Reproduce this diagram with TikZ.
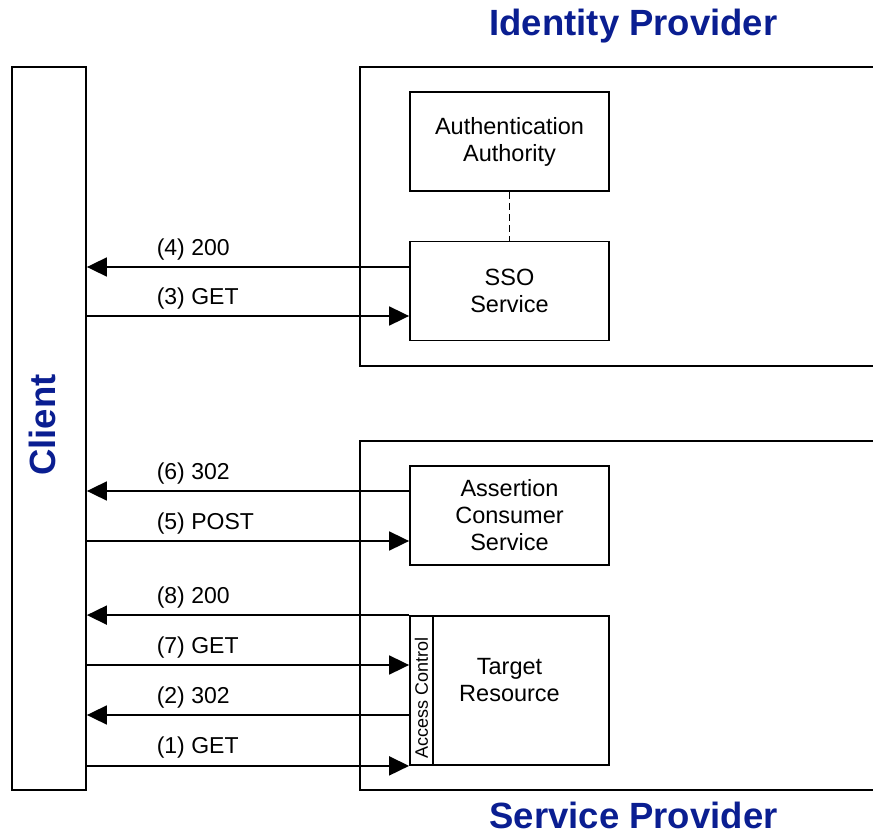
\documentclass[tikz,border=0pt]{standalone}
\usepackage{fontspec}
\setmainfont{Liberation Sans}
\usetikzlibrary{arrows.meta,positioning,calc}
\definecolor{navy}{RGB}{10,30,145}

\begin{document}
\begin{tikzpicture}[x=1pt,y=-1pt,
  box/.style={rectangle,draw,line width=1.8pt,inner sep=0pt,minimum width=199pt,minimum height=99pt,align=center,font=\fontsize{23.5}{27}\selectfont},
  frame/.style={line width=1.8pt},
  title/.style={font=\fontsize{36.5}{40}\selectfont\bfseries,text=navy,inner sep=0pt},
  arr/.style={-{Triangle[length=20pt,width=19pt]},line width=1.8pt},
  lbl/.style={anchor=base west,xshift=69pt,yshift=12pt,inner sep=0pt,font=\fontsize{23}{27}\selectfont}
]
\useasboundingbox (0,0) rectangle (873,837);

% provider frames, open on the right
\draw[frame] (873,67) -| (360,366) -- (873,366);
\draw[frame] (873,441) -| (360,790) -- (873,790);
\node[title, anchor=base] (idp) at (633.5,36) {Identity Provider};
\node[title, anchor=base] (sp) at (633.5,828) {Service Provider};

% client
\node[box, minimum width=74pt, minimum height=723pt] (client) at (49,428.5) {};
\node[title, rotate=90] (clientlbl) at (42,425) {Client};

% identity provider
\node[box] (auth) at (509.5,141.5) {Authentication\\Authority};
\node[box] (sso) at (509.5,291) {SSO\\Service};
\draw[line width=1.8pt, dash pattern=on 7pt off 4pt] (auth) -- (sso);

% service provider
\node[box] (acs) at (509.5,515.5) {Assertion\\Consumer\\Service};
\node[box, minimum height=149pt] (target) at (509.5,690.5) {};
\node[font=\fontsize{23.5}{27}\selectfont, align=center] (targettxt) at ([yshift=10pt]target.center) {Target\\Resource};
\node[box, minimum width=23pt, minimum height=149pt] (ctrl) at (421.5,690.5) {};
\node[rotate=90, inner sep=0pt, font=\fontsize{18}{20}\selectfont] (ctrltxt) at ([yshift=-7pt]ctrl.center) {Access Control};

% message ends on the boxes
\coordinate (m4) at ([yshift=24pt]sso.west);
\coordinate (m3) at ([yshift=-25pt]sso.west);
\coordinate (m6) at ([yshift=24.5pt]acs.west);
\coordinate (m5) at ([yshift=-25.5pt]acs.west);
\coordinate (m8) at (target.north west);
\coordinate (m7) at ([yshift=25.5pt]ctrl.west);
\coordinate (m2) at ([yshift=-24.5pt]ctrl.west);
\coordinate (m1) at (ctrl.south west);

% messages
\draw[arr] (m4) -- (client.east |- m4) node[lbl] {(4) 200};
\draw[arr] (client.east |- m3) node[lbl] {(3) GET} -- (m3);
\draw[arr] (m6) -- (client.east |- m6) node[lbl] {(6) 302};
\draw[arr] (client.east |- m5) node[lbl] {(5) POST} -- (m5);
\draw[arr] (m8) -- (client.east |- m8) node[lbl] {(8) 200};
\draw[arr] (client.east |- m7) node[lbl] {(7) GET} -- (m7);
\draw[arr] (m2) -- (client.east |- m2) node[lbl] {(2) 302};
\draw[arr] (client.east |- m1) node[lbl] {(1) GET} -- (m1);
\end{tikzpicture}
\end{document}
